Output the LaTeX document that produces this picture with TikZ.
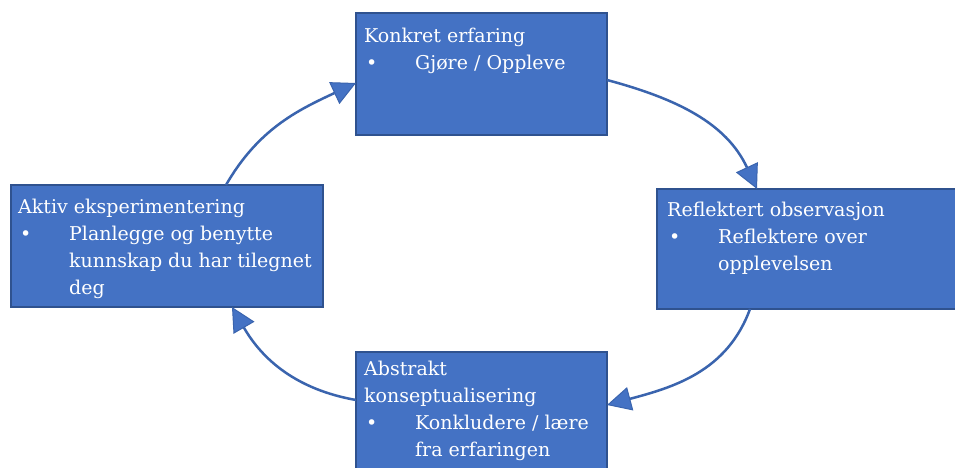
\documentclass[tikz,border=0pt]{standalone}
\usepackage{fontspec}
\setmainfont{DejaVu Serif}
\usetikzlibrary{arrows.meta}
\definecolor{fillblue}{HTML}{4472C4}
\definecolor{edgeblue}{HTML}{2F528F}
\definecolor{lineblue}{HTML}{3A64AE}
\newcommand{\bul}{\hspace{2pt}\makebox[49pt][l]{•}}
\newcommand{\ind}{\hspace{51pt}}
\begin{document}
\begin{tikzpicture}[x=1pt,y=1pt,
  box/.style={draw=edgeblue, fill=fillblue, line width=2pt, rectangle, anchor=north west, inner sep=0pt, outer sep=0pt},
  txt/.style={anchor=base west, inner sep=0pt, text=white, font=\fontsize{19}{27}\selectfont},
  cyc/.style={draw=lineblue, line width=2.5pt, -{Triangle[length=24pt,width=24pt,fill=fillblue,line width=1pt]}}]
\clip (0,0) rectangle (955,468);
\fill[white] (0,0) rectangle (955,468);
% boxes
\node[box, minimum width=251pt, minimum height=122pt] (top) at (356,455) {};
\node[box, minimum width=312pt, minimum height=122pt] (lft) at (11,283) {};
\node[box, minimum width=310pt, minimum height=120pt] (rgt) at (657,279) {};
\node[box, minimum width=251pt, minimum height=140pt] (bot) at (356,116) {};
% texts
\node[txt] (toptxt) at ([xshift=8pt,yshift=-30pt]top.north west)
  {\begin{tabular}[t]{@{}l@{}}Konkret erfaring\\ \bul Gjøre / Oppleve\end{tabular}};
\node[txt] (lfttxt) at ([xshift=7pt,yshift=-29pt]lft.north west)
  {\begin{tabular}[t]{@{}l@{}}Aktiv eksperimentering\\ \bul Planlegge og benytte\\ \ind kunnskap du har tilegnet\\ \ind deg\end{tabular}};
\node[txt] (rgttxt) at ([xshift=10pt,yshift=-28pt]rgt.north west)
  {\begin{tabular}[t]{@{}l@{}}Reflektert observasjon\\ \bul Reflektere over\\ \ind opplevelsen\end{tabular}};
\node[txt] (bottxt) at ([xshift=8pt,yshift=-24pt]bot.north west)
  {\begin{tabular}[t]{@{}l@{}}Abstrakt\\ konseptualisering\\ \bul Konkludere / lære\\ \ind fra erfaringen\end{tabular}};
% cycle arrows
\draw[cyc] ([xshift=215pt]lft.north west) to[out=60,in=205] ([yshift=-70pt]top.north west);
\draw[cyc] ([yshift=-67pt]top.north east) to[out=-15,in=115] ([xshift=100pt]rgt.north west);
\draw[cyc] ([xshift=93pt]rgt.south west) to[out=-110,in=15] ([yshift=-53pt]bot.north east);
\draw[cyc] ([yshift=-48pt]bot.north west) to[out=170,in=-60] ([xshift=221pt]lft.south west);
\end{tikzpicture}
\end{document}
